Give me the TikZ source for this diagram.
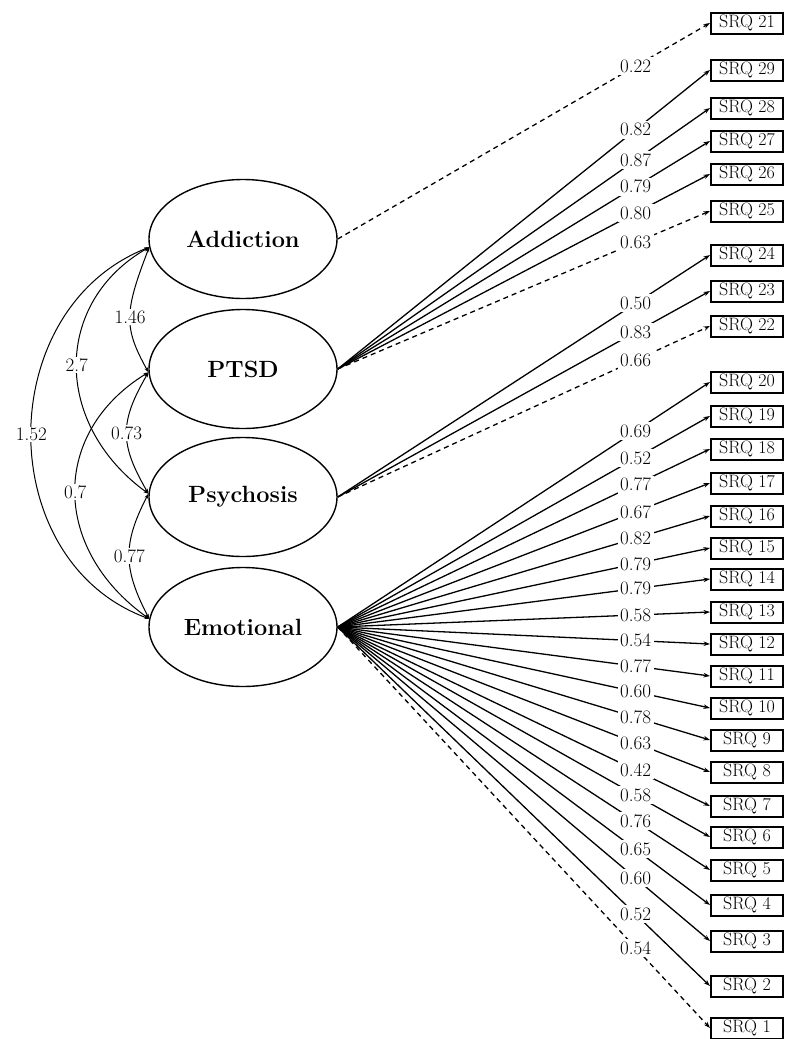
\documentclass[tikz,border=0pt]{standalone}
\usetikzlibrary{arrows.meta,shapes.geometric}
\begin{document}
\begin{tikzpicture}[x=1pt,y=-1pt,
 lat/.style={draw,ellipse,line width=1.4pt,minimum width=188pt,minimum height=119pt,inner sep=0pt,font=\fontsize{23.5}{28}\selectfont\bfseries},
 obs/.style={draw,rectangle,line width=2pt,minimum width=72pt,minimum height=21pt,inner sep=0pt,font=\fontsize{18}{20}\selectfont},
 ld/.style={line width=1.3pt,-{Stealth[length=6.5pt,width=4.5pt]}},
 ldd/.style={ld,dash pattern=on 5pt off 4pt},
 lab/.style={fill=white,inner sep=2.5pt,font=\fontsize{19}{21}\selectfont},
 cor/.style={line width=1pt,{Stealth[length=5pt,width=3.5pt]}-{Stealth[length=5pt,width=3.5pt]}},
 clab/.style={fill=white,inner sep=1.5pt,font=\fontsize{19}{21}\selectfont}]
\useasboundingbox[fill=white] (0,0) rectangle (787,1039);

% latent variables
\node[lat] (add) at (243,239) {Addiction};
\node[lat] (pt)  at (243,369) {PTSD};
\node[lat] (psy) at (243,497) {Psychosis};
\node[lat] (emo) at (243,627) {Emotional};

% observed items
\foreach \n/\yy in {21/23,29/70,28/108,27/141,26/174,25/211,24/255,23/291,22/326,
  20/382,19/416,18/449,17/483,16/516,15/548,14/579,13/612,12/644,11/676,10/708,
  9/740,8/772,7/806,6/837,5/870,4/905,3/941,2/986,1/1028}
  \node[obs] (s\n) at (747,\yy) {SRQ \n};

% loadings: lines
\draw[ldd] (add.east) -- (s21.west);
\foreach \n in {29,28,27,26} \draw[ld] (pt.east) -- (s\n.west);
\draw[ldd] (pt.east) -- (s25.west);
\foreach \n in {24,23} \draw[ld] (psy.east) -- (s\n.west);
\draw[ldd] (psy.east) -- (s22.west);
\foreach \n in {20,19,18,17,16,15,14,13,12,11,10,9,8,7,6,5,4,3,2}
  \draw[ld] (emo.east) -- (s\n.west);
\draw[ldd] (emo.east) -- (s1.west);

% loadings: labels
\path (add.east) -- (s21.west) node[lab,pos=0.8] {0.22};
\foreach \n/\val in {29/0.82,28/0.87,27/0.79,26/0.80,25/0.63}
  \path (pt.east) -- (s\n.west) node[lab,pos=0.8] {\val};
\foreach \n/\val in {24/0.50,23/0.83,22/0.66}
  \path (psy.east) -- (s\n.west) node[lab,pos=0.8] {\val};
\foreach \n/\val in {20/0.69,19/0.52,18/0.77,17/0.67,16/0.82,15/0.79,14/0.79,13/0.58,
  12/0.54,11/0.77,10/0.60,9/0.78,8/0.63,7/0.42,6/0.58,5/0.76,4/0.65,3/0.60,2/0.52,1/0.54}
  \path (emo.east) -- (s\n.west) node[lab,pos=0.8] {\val};

% covariances
\draw[cor] (add.185) .. controls +(-157,62) and +(-157,-58) .. (emo.175) node[clab,pos=0.5] {1.52};
\draw[cor] (add.185) .. controls +(-96,55) and +(-96,-70) .. (psy.178) node[clab,pos=0.5] {2.7};
\draw[cor] (pt.182) .. controls +(-98,60) and +(-98,-70) .. (emo.175) node[clab,pos=0.5] {0.7};
\draw[cor] (add.185) .. controls +(-25,65) and +(-25,-45) .. (pt.182) node[clab,pos=0.5] {1.46};
\draw[cor] (pt.182) .. controls +(-29,50) and +(-29,-50) .. (psy.178) node[clab,pos=0.5] {0.73};
\draw[cor] (psy.178) .. controls +(-26,50) and +(-26,-50) .. (emo.175) node[clab,pos=0.5] {0.77};
\end{tikzpicture}
\end{document}
